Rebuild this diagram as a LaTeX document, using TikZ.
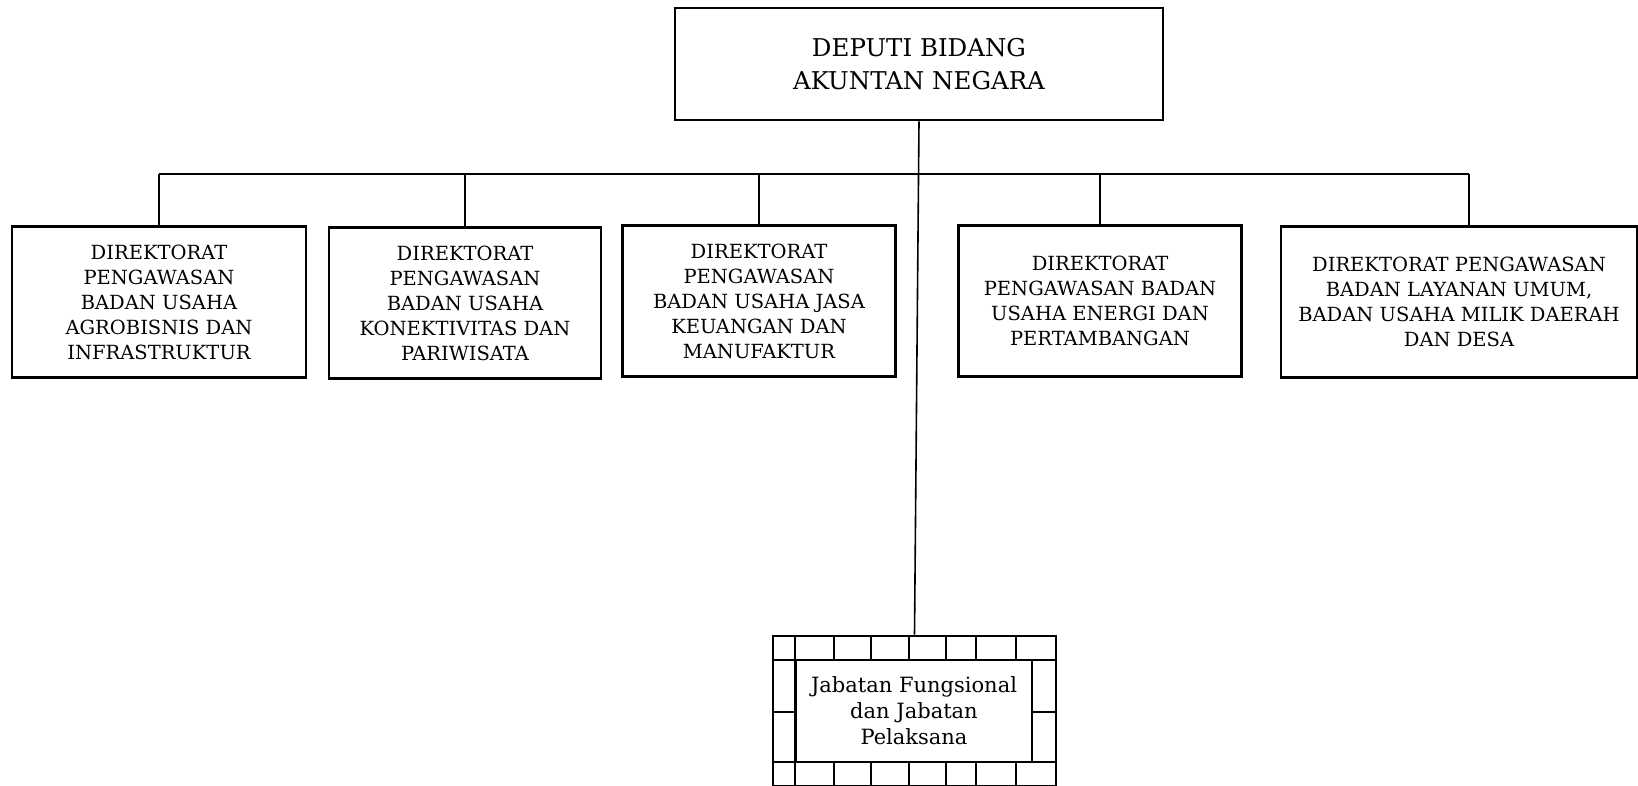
\documentclass[tikz,border=0pt]{standalone}
\usepackage{fontspec}
\setmainfont{DejaVu Serif}
\usetikzlibrary{positioning}

\begin{document}
\begin{tikzpicture}[x=1pt,y=-1pt,
  dirbox/.style={draw,line width=2.6pt,minimum height=151pt,align=center,
    inner sep=0pt,font=\fontsize{19.5}{25}\selectfont},
  topbox/.style={draw,line width=2.6pt,minimum width=488pt,minimum height=112pt,
    align=center,inner sep=0pt,font=\fontsize{24.5}{33}\selectfont},
  link/.style={line width=1.2pt},
  cell/.style={line width=2pt}]
\clip (0,0) rectangle (1638,785);
\useasboundingbox (0,0) rectangle (1638,785);
\node[topbox] (dep) at (919,64) {DEPUTI BIDANG\\AKUNTAN NEGARA};
\node[dirbox,minimum width=294pt] (dir1) at (159,302)
  {DIREKTORAT\\PENGAWASAN\\BADAN USAHA\\AGROBISNIS DAN\\INFRASTRUKTUR};
\node[dirbox,minimum width=272pt] (dir2) at (465,303)
  {DIREKTORAT\\PENGAWASAN\\BADAN USAHA\\KONEKTIVITAS DAN\\PARIWISATA};
\node[dirbox,minimum width=273pt] (dir3) at (759,301)
  {DIREKTORAT\\PENGAWASAN\\BADAN USAHA JASA\\KEUANGAN DAN\\MANUFAKTUR};
\node[dirbox,minimum width=283pt] (dir4) at (1100,301)
  {DIREKTORAT\\PENGAWASAN BADAN\\USAHA ENERGI DAN\\PERTAMBANGAN};
\node[dirbox,minimum width=356pt] (dir5) at (1459,302)
  {DIREKTORAT PENGAWASAN\\BADAN LAYANAN UMUM,\\BADAN USAHA MILIK DAERAH\\DAN DESA};
\node[draw,line width=2.6pt,minimum width=283pt,minimum height=150pt] (jf) at (914.5,711) {};
\node[draw,cell,minimum width=236pt,minimum height=102pt,align=center,inner sep=0pt,
  font=\fontsize{21}{26}\selectfont] (jft) at (914,711)
  {Jabatan Fungsional\\dan Jabatan\\Pelaksana};
\coordinate (bus) at (0,174);
\coordinate (drop5) at ([xshift=10pt]dir5.north);
% frame cells round the functional box
\draw[cell] (jf.west |- 0,660) -- (jf.east |- 0,660)
            (jf.west |- 0,762) -- (jf.east |- 0,762)
            (jft.west |- jf.north) -- (jft.west |- jf.south)
            (jf.west |- 0,712) -- (jft.west |- 0,712)
            (jft.east |- 0,712) -- (jf.east |- 0,712);
\foreach \x in {834,871,909,946,976,1016}
  \draw[cell] (\x,636) -- (\x,660) (\x,762) -- (\x,786);
% connectors
\draw[link] (dir1.north |- bus) -- (dir2.north |- bus);
\draw[link,line width=1.8pt] (dir2.north |- bus) -- (dir4.north |- bus);
\draw[link] (dir4.north |- bus) -- (drop5 |- bus);
\foreach \d in {dir1,dir2,dir3,dir4}
  \draw[link] (\d.north) -- (\d.north |- bus);
\draw[link] (drop5) -- (drop5 |- bus);
\draw[link,line width=1.6pt] (dep.south) -- (jf.north);
\end{tikzpicture}
\end{document}
